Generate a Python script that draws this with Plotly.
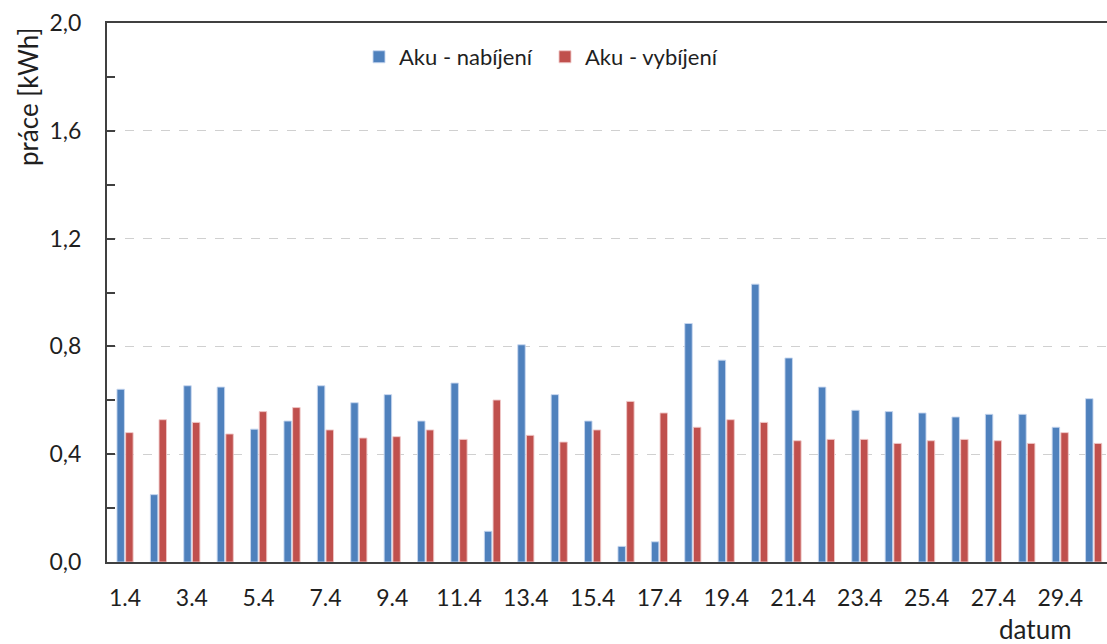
import plotly.graph_objects as go

days = [f"{d}.4" for d in range(1, 31)]
tick_labels = days[::2]

nabijeni = [0.641, 0.25, 0.654, 0.649, 0.493, 0.523, 0.654, 0.591, 0.621, 0.523,
            0.664, 0.114, 0.806, 0.621, 0.523, 0.058, 0.075, 0.885, 0.749, 1.031,
            0.757, 0.649, 0.563, 0.558, 0.553, 0.538, 0.548, 0.548, 0.50, 0.606]
vybijeni = [0.48, 0.528, 0.518, 0.475, 0.558, 0.573, 0.49, 0.46, 0.465, 0.49,
            0.455, 0.601, 0.47, 0.445, 0.49, 0.596, 0.553, 0.50, 0.528, 0.518,
            0.45, 0.455, 0.455, 0.44, 0.45, 0.455, 0.45, 0.44, 0.48, 0.44]

FONT = "Lato"
TXT = "#1F1F1F"
fig = go.Figure()
fig.add_trace(go.Bar(x=days, y=nabijeni, name="Aku - nabíjení",
                     marker=dict(color="#4F81BD", line=dict(color="rgba(200,215,240,0.9)", width=1))))
fig.add_trace(go.Bar(x=days, y=vybijeni, name="Aku - vybíjení",
                     marker=dict(color="#C0504D", line=dict(color="rgba(240,200,200,0.9)", width=1))))

fig.update_layout(
    width=1107, height=644,
    margin=dict(l=107, r=0, t=23, b=82),
    plot_bgcolor="white", paper_bgcolor="white",
    barmode="group", bargap=0.48, bargroupgap=0.14,
    separators=", ",
    font=dict(family=FONT, size=22, color=TXT),
    showlegend=True,
    legend=dict(orientation="h", x=0.252, y=0.937, xanchor="left", yanchor="middle",
                font=dict(family=FONT, size=22, color=TXT),
                bgcolor="rgba(0,0,0,0)", entrywidth=141, entrywidthmode="pixels"),
)
fig.update_xaxes(
    type="category", range=[-0.54, 29.4],
    tickmode="array", tickvals=tick_labels, ticktext=tick_labels,
    showline=True, linecolor="#404040", linewidth=2, mirror=True,
    showgrid=False, ticks="", ticklabelstandoff=14,
    tickfont=dict(family=FONT, size=23, color=TXT),
)
fig.update_yaxes(
    range=[0, 2.0], dtick=0.4, tick0=0, tickformat=".1f",
    showline=True, linecolor="#404040", linewidth=2,
    showgrid=True, gridcolor="#D0D0D0", griddash="dash", gridwidth=1,
    ticks="inside", ticklen=8, tickcolor="#404040", tickwidth=2,
    minor=dict(dtick=0.2, tick0=0, ticks="inside", ticklen=8, tickcolor="#404040", tickwidth=2, showgrid=False),
    ticklabelstandoff=19, zeroline=False,
    tickfont=dict(family=FONT, size=23, color=TXT),
)
fig.add_annotation(text="práce [kWh]", textangle=-90, xref="paper", yref="paper",
                   x=(28 - 107) / 1000, y=1 - (97 - 23) / 538.7, xanchor="center", yanchor="middle",
                   showarrow=False, font=dict(family=FONT, size=26, color=TXT))
fig.add_annotation(text="datum", xref="paper", yref="paper",
                   x=(1035 - 107) / 1000, y=-(628 - 561) / 538.7, xanchor="center", yanchor="middle",
                   showarrow=False, font=dict(family=FONT, size=26, color=TXT))

fig.write_html("out.html", config={"displayModeBar": False},
               post_script="document.body.style.margin='0';document.body.style.overflow='hidden';")
